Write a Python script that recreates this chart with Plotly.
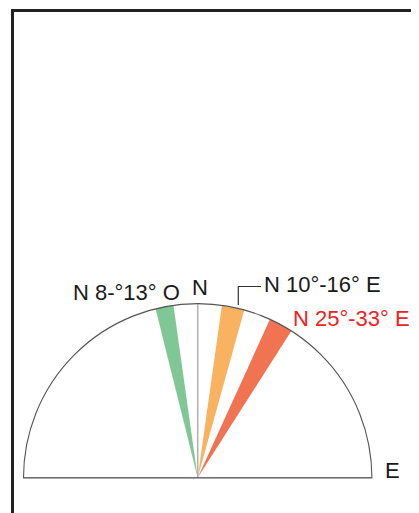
import plotly.graph_objects as go

# Page body has an 8px margin; figure sized to fit in the 419x513 window
OFF = 8
W, H = 419 - OFF, 513 - OFF

# Data: wedge orientations (degrees from North, East positive, West negative)
wedge_labels = ["N 8-°13° O", "N 10°-16° E", "N 25°-33° E"]
wedge_start = [-14.0, 8.0, 24.5]
wedge_end = [-8.0, 15.5, 32.5]
wedge_colors = ["#7fc896", "#f8b260", "#f07352"]
axis_tick_text = ["N", "E"]

FONT = "Arial, Liberation Sans, Helvetica, sans-serif"
FS = 22


def px(x):
    return (x - OFF) / W


def py(y):
    return 1 - (y - OFF) / H


fig = go.Figure()

# diameter (W-E base line)
fig.add_trace(go.Scatterpolar(r=[1, 0, 1], theta=[-90, 0, 90], mode="lines",
                              line=dict(color="#8a8a8a", width=1.2),
                              hoverinfo="skip", showlegend=False))
# north line
fig.add_trace(go.Scatterpolar(r=[0, 1], theta=[0, 0], mode="lines",
                              line=dict(color="#b0b0b0", width=1.5),
                              hoverinfo="skip", showlegend=False))

for s, e, c, lab in zip(wedge_start, wedge_end, wedge_colors, wedge_labels):
    fig.add_trace(go.Barpolar(r=[1], theta=[(s + e) / 2], width=[e - s], base=0,
                              marker=dict(color=c, line=dict(width=0)),
                              name=lab, showlegend=False, hoverinfo="name"))

fig.update_layout(
    width=W, height=H,
    margin=dict(l=0, r=0, t=0, b=0),
    paper_bgcolor="white",
    plot_bgcolor="white",
    font=dict(family=FONT, color="#1a1a1a", size=FS),
    polar=dict(
        domain=dict(x=[px(23.5), px(371.9)], y=[py(478.0), py(303.5)]),
        sector=[0, 180],
        bgcolor="white",
        hole=0,
        radialaxis=dict(visible=False, range=[0, 1]),
        angularaxis=dict(rotation=90, direction="clockwise",
                         showline=True, linecolor="#555555", linewidth=1.1,
                         showgrid=False, ticks="", showticklabels=False),
    ),
    barmode="overlay",
)

annotations = [
    dict(text=wedge_labels[0], x=px(181.5), y=py(292), xanchor="right", yanchor="middle",
         font=dict(size=FS, color="#1a1a1a")),
    dict(text=wedge_labels[1], x=px(262), y=py(284), xanchor="left", yanchor="middle",
         font=dict(size=FS, color="#1a1a1a")),
    dict(text=wedge_labels[2], x=px(291), y=py(318), xanchor="left", yanchor="middle",
         font=dict(size=FS, color="#ee2222")),
    dict(text=axis_tick_text[0], x=px(200), y=py(287), xanchor="center", yanchor="middle",
         font=dict(size=FS, color="#1a1a1a")),
    dict(text=axis_tick_text[1], x=px(382.5), y=py(470), xanchor="left", yanchor="middle",
         font=dict(size=FS, color="#1a1a1a")),
]
for a in annotations:
    a.update(xref="paper", yref="paper", showarrow=False)
fig.update_layout(annotations=annotations)

fig.update_layout(shapes=[
    # leader line for the orange wedge label
    dict(type="path", xref="paper", yref="paper",
         path=f"M {px(238.3)},{py(305)} L {px(238.3)},{py(286.5)} L {px(261)},{py(286.5)}",
         line=dict(color="#333333", width=1.2)),
    # outer frame
    dict(type="rect", xref="paper", yref="paper",
         x0=px(12.5), y0=-0.2, x1=1.2, y1=py(10.5),
         line=dict(color="#222222", width=3)),
])

fig.write_html("out.html")
